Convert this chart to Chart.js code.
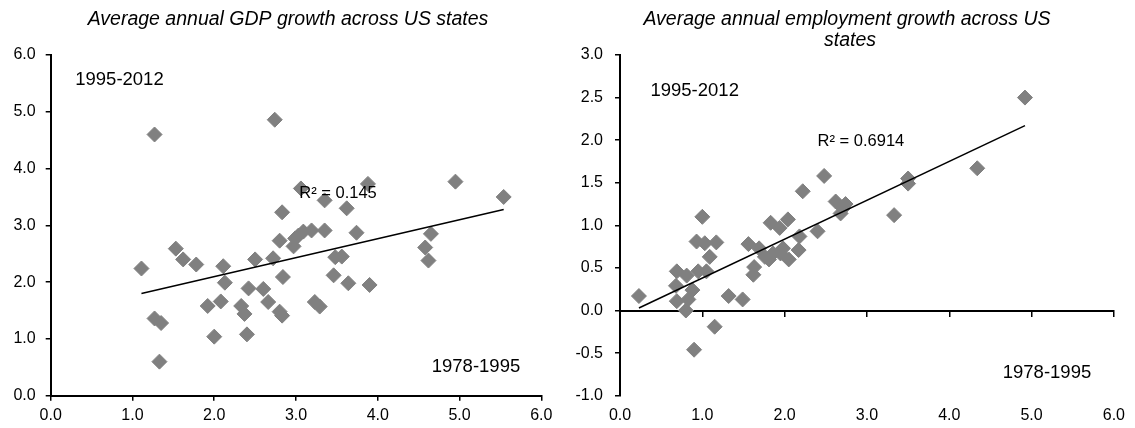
<!DOCTYPE html>
<html>
<head>
<meta charset="utf-8">
<script src="https://cdn.jsdelivr.net/npm/chart.js@4/dist/chart.umd.min.js"></script>
<style>
  html, body { margin: 0; padding: 0; background: #fff; }
  #wrap { position: relative; width: 1135px; height: 428px; overflow: hidden; }
  canvas { position: absolute; top: 0; }
  #gdp { left: 0; }
  #emp { left: 565px; }
</style>
</head>
<body>
<div id="wrap">
  <canvas id="gdp" width="565" height="428"></canvas>
  <canvas id="emp" width="570" height="428"></canvas>
</div>
<script>
// Average annual growth per state: x = 1978-1995, y = 1995-2012 (percent)
const gdpEarly = [1.11,1.27,1.27,1.35,1.33,1.53,1.62,1.78,1.92,2.00,2.08,2.11,2.13,2.33,2.37,2.40,2.42,2.50,2.60,2.66,2.74,2.72,2.83,2.80,2.84,2.80,2.83,3.06,3.88,3.35,3.62,3.09,3.19,3.35,3.74,2.99,2.97,3.48,3.56,3.46,3.64,3.90,3.23,3.29,4.65,4.58,4.62,4.95,5.54,3.03];
const gdpLate  = [2.24,4.60,1.36,1.28,0.60,2.59,2.40,2.31,1.58,1.04,1.66,2.28,1.99,1.58,1.44,1.08,1.89,2.40,1.88,1.65,4.86,2.42,3.23,2.73,2.09,1.48,1.41,3.65,3.73,3.44,3.30,2.89,2.91,2.91,2.87,2.77,2.63,2.44,2.45,2.12,1.98,1.95,1.65,1.57,2.85,2.61,2.38,3.77,3.50,2.82];
const gdpTrendX = [1.11, 5.54];
const gdpTrendY = [1.80, 3.28];
const gdpR2 = 'R² = 0.145';

const empEarly = [0.23,0.69,0.68,0.69,0.81,0.80,0.83,0.88,0.90,0.95,0.93,1.00,1.03,1.05,1.09,1.17,1.15,1.32,1.49,1.56,1.62,1.63,1.69,1.76,1.81,1.83,1.86,1.94,1.95,1.98,2.04,2.05,2.17,2.18,2.22,2.40,2.48,2.62,2.68,2.74,2.71,3.33,3.50,3.50,4.34,4.92];
const empLate  = [0.17,0.46,0.29,0.11,0.41,0.00,0.13,0.24,-0.46,0.46,0.81,1.10,0.79,0.46,0.63,0.80,-0.19,0.17,0.13,0.78,0.42,0.51,0.73,0.63,0.60,1.03,0.67,0.97,0.67,0.73,1.07,0.60,0.71,0.87,1.40,0.93,1.58,1.28,1.14,1.25,1.20,1.12,1.55,1.49,1.67,2.50];
const empTrendX = [0.23, 4.92];
const empTrendY = [0.03, 2.17];
const empR2 = 'R² = 0.6914';

const gdpTitle = ['Average annual GDP growth across US states'];
const empTitle = ['Average annual employment growth across US', 'states'];
const periodLate = '1995-2012';
const periodEarly = '1978-1995';

const FONT = "'Liberation Sans', Arial, sans-serif";
const MARK = '#808080';

const toPoints = (xs, ys) => xs.map((x, i) => ({ x, y: ys[i] }));

// Titles (pixel positions) and in-plot notes (data positions)
const panelText = {
  id: 'panelText',
  afterDraw(chart, args, opts) {
    const ctx = chart.ctx;
    const sx = chart.scales.x, sy = chart.scales.y;
    ctx.save();
    ctx.fillStyle = '#000';
    for (const t of opts.items) {
      ctx.font = t.font;
      ctx.textAlign = t.align || 'left';
      ctx.textBaseline = t.baseline || 'middle';
      const px = t.data ? sx.getPixelForValue(t.x) : t.x;
      const py = t.data ? sy.getPixelForValue(t.y) : t.y;
      ctx.fillText(t.text, px, py);
    }
    ctx.restore();
  }
};

function tickFmt(v) { return Number(v).toFixed(1); }

function makeChart(id, cfg) {
  const bottomAxisH = 428 - 395.7;
  const scales = {
    y: {
      type: 'linear', min: cfg.yMin, max: cfg.yMax,
      afterFit: s => { s.width = cfg.yAxisW; },
      ticks: { stepSize: cfg.yStep, callback: tickFmt, color: '#000', padding: cfg.yPad,
               font: { family: FONT, size: 16 } },
      grid: { display: true, drawOnChartArea: false, drawTicks: true, tickLength: 5, color: '#000', lineWidth: 1.5 },
      border: { display: true, color: '#000', width: 2 }
    }
  };
  if (!cfg.zeroAxis) {
    scales.x = {
      type: 'linear', position: 'bottom', min: 0, max: 6,
      afterFit: s => { s.height = bottomAxisH; },
      ticks: { stepSize: 1, callback: tickFmt, color: '#000', padding: 5, maxRotation: 0,
               font: { family: FONT, size: 16 } },
      grid: { display: true, drawOnChartArea: false, drawTicks: true, tickLength: 5, color: '#000', lineWidth: 1.5 },
      border: { display: true, color: '#000', width: 2 }
    };
  } else {
    // labels sit along the bottom, while the axis line crosses at zero
    scales.x = {
      type: 'linear', position: 'bottom', min: 0, max: 6,
      afterFit: s => { s.height = bottomAxisH; },
      ticks: { stepSize: 1, callback: tickFmt, color: '#000', padding: 10, maxRotation: 0,
               font: { family: FONT, size: 16 } },
      grid: { display: false, drawTicks: false },
      border: { display: false }
    };
    scales.x0 = {
      type: 'linear', axis: 'x', position: { y: 0 }, min: 0, max: 6,
      ticks: { stepSize: 1, display: false },
      grid: { display: true, drawOnChartArea: false, drawTicks: true, tickLength: 5, color: '#000', lineWidth: 1.5 },
      border: { display: true, color: '#000', width: 2 }
    };
  }

  return new Chart(document.getElementById(id), {
    type: 'scatter',
    data: {
      datasets: [
        {
          type: 'line',
          data: toPoints(cfg.trendX, cfg.trendY),
          borderColor: '#000', borderWidth: 1.5, pointRadius: 0, fill: false, tension: 0
        },
        {
          data: toPoints(cfg.xs, cfg.ys),
          pointStyle: 'rectRot', pointRadius: 7.5, pointHoverRadius: 7.5,
          backgroundColor: MARK, borderColor: MARK, borderWidth: 1
        }
      ]
    },
    options: {
      responsive: false, animation: false, devicePixelRatio: 1,
      layout: { padding: { top: 55, left: 0, right: cfg.padRight, bottom: 0 } },
      plugins: {
        legend: { display: false }, tooltip: { enabled: false }, title: { display: false },
        panelText: { items: cfg.texts }
      },
      scales
    },
    plugins: [panelText]
  });
}

const titleFont = `italic 19.5px ${FONT}`;
const noteFont = `18.5px ${FONT}`;
const r2Font = `16.5px ${FONT}`;

makeChart('gdp', {
  xs: gdpEarly, ys: gdpLate, trendX: gdpTrendX, trendY: gdpTrendY,
  yMin: 0, yMax: 6, yStep: 1, yAxisW: 50.7, yPad: 10, padRight: 565 - 541.3,
  texts: [
    { text: gdpTitle[0], x: 288, y: 25, font: titleFont, align: 'center', baseline: 'alphabetic' },
    { text: periodLate, x: 0.30, y: 5.57, data: true, font: noteFont },
    { text: periodEarly, x: 4.66, y: 0.51, data: true, font: noteFont },
    { text: gdpR2, x: 3.04, y: 3.56, data: true, font: r2Font }
  ]
});

makeChart('emp', {
  xs: empEarly, ys: empLate, trendX: empTrendX, trendY: empTrendY, zeroAxis: true,
  yMin: -1, yMax: 3, yStep: 0.5, yAxisW: 55, yPad: 12, padRight: 570 - 550.7,
  texts: [
    { text: empTitle[0], x: 282, y: 25, font: titleFont, align: 'center', baseline: 'alphabetic' },
    { text: empTitle[1], x: 285, y: 46, font: titleFont, align: 'center', baseline: 'alphabetic' },
    { text: periodLate, x: 0.37, y: 2.58, data: true, font: noteFont },
    { text: periodEarly, x: 4.65, y: -0.73, data: true, font: noteFont },
    { text: empR2, x: 2.40, y: 1.99, data: true, font: r2Font }
  ]
});
</script>
</body>
</html>
